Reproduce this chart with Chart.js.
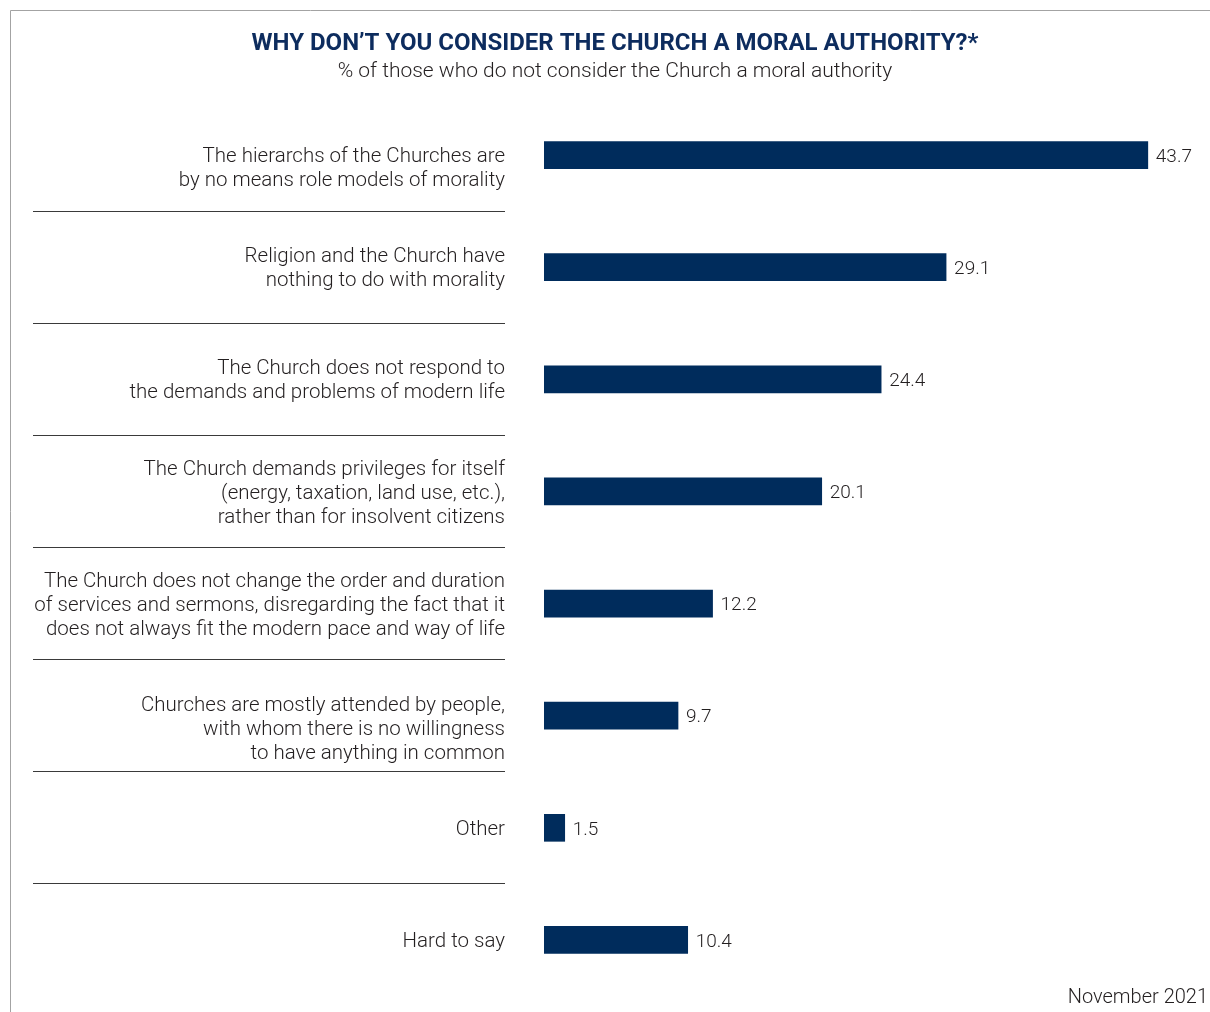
<!DOCTYPE html>
<html>
<head>
<meta charset="utf-8">
<script src="https://cdn.jsdelivr.net/npm/chart.js@4.4.1/dist/chart.umd.min.js"></script>
<style>
  html, body { margin: 0; padding: 0; background: #fff; }
  #wrap { width: 1210px; height: 1012px; position: relative; }
</style>
</head>
<body>
<div id="wrap"><canvas id="chart" width="1210" height="1012"></canvas></div>
<script>
// answer categories (multi-line labels as laid out in the original,
// the first and sixth ones start one line lower than their bar)
const answers = [
    ["", "The hierarchs of the Churches are", "by no means role models of morality"],
    ["Religion and the Church have", "nothing to do with morality"],
    ["The Church does not respond to", "the demands and problems of modern life"],
    ["The Church demands privileges for itself", "(energy, taxation, land use, etc.),", "rather than for insolvent citizens"],
    ["The Church does not change the order and duration", "of services and sermons, disregarding the fact that it", "does not always fit the modern pace and way of life"],
    ["", "Churches are mostly attended by people,", "with whom there is no willingness", "to have anything in common"],
    "Other",
    "Hard to say",
];

// % of respondents
const shares = [43.7, 29.1, 24.4, 20.1, 12.2, 9.7, 1.5, 10.4];

const titleText = "WHY DON\u2019T YOU CONSIDER THE CHURCH A MORAL AUTHORITY?*";
const subtitleText = "% of those who do not consider the Church a moral authority";
const dateText = "November 2021";

const NAVY = "#002c5c";
const TEXT = "#231f20";
const FONT = "Roboto, 'Liberation Sans', sans-serif";

// frame, separators, value labels and date
const decorations = {
    id: "decorations",
    beforeDraw(chart) {
        const ctx = chart.ctx;
        ctx.save();
        ctx.strokeStyle = "#a3a3a3";
        ctx.lineWidth = 1;
        ctx.beginPath();
        ctx.moveTo(10.5, chart.height);
        ctx.lineTo(10.5, 10.5);
        ctx.lineTo(chart.width, 10.5);
        ctx.stroke();
        ctx.restore();
    },
    afterDraw(chart) {
        const ctx = chart.ctx;
        const yScale = chart.scales.y;
        ctx.save();

        // lines between the answer labels
        ctx.strokeStyle = "#3a3a3a";
        ctx.lineWidth = 1;
        for (let i = 1; i < answers.length; i++) {
            const y = Math.floor((yScale.getPixelForTick(i - 1) + yScale.getPixelForTick(i)) / 2) + 0.5;
            ctx.beginPath();
            ctx.moveTo(33, y);
            ctx.lineTo(505, y);
            ctx.stroke();
        }

        // values next to the bars
        ctx.fillStyle = TEXT;
        ctx.font = "300 19px " + FONT;
        ctx.textAlign = "left";
        ctx.textBaseline = "middle";
        chart.getDatasetMeta(0).data.forEach((bar, i) => {
            ctx.fillText(shares[i].toFixed(1), bar.x + 8, bar.y + 2);
        });

        // date in the corner
        ctx.font = "300 20px " + FONT;
        ctx.textAlign = "right";
        ctx.fillText(dateText, 1208, 998);
        ctx.restore();
    }
};

const chart = new Chart(document.getElementById("chart"), {
    type: "bar",
    data: {
        labels: answers,
        datasets: [{
            data: shares,
            backgroundColor: NAVY,
            barThickness: 27,
        }],
    },
    options: {
        indexAxis: "y",
        responsive: false,
        animation: false,
        layout: { padding: { left: 20, right: 0, top: 0, bottom: 16 } },
        plugins: {
            legend: { display: false },
            tooltip: { enabled: false },
            title: {
                display: true,
                text: titleText,
                color: "#0d2c5e",
                font: { family: FONT, size: 24, weight: "bold", lineHeight: 1.2 },
                padding: { top: 30, bottom: 0 },
            },
            subtitle: {
                display: true,
                text: subtitleText,
                color: TEXT,
                font: { family: FONT, size: 21, weight: "300", lineHeight: 1.2 },
                padding: { top: 0, bottom: 15 },
            },
        },
        scales: {
            x: {
                display: false,
                min: 0,
                max: 48.2,
            },
            y: {
                grid: { display: false, drawTicks: false, tickLength: 0 },
                border: { display: false },
                ticks: {
                    color: TEXT,
                    padding: 39,
                    labelOffset: 2,
                    font: { family: FONT, size: 20.5, weight: "300", lineHeight: 1.17 },
                },
                afterFit(scale) {
                    scale.width = 524;
                    scale.paddingTop = 0;
                    scale.paddingBottom = 0;
                },
            },
        },
    },
    plugins: [decorations],
});
</script>
</body>
</html>
